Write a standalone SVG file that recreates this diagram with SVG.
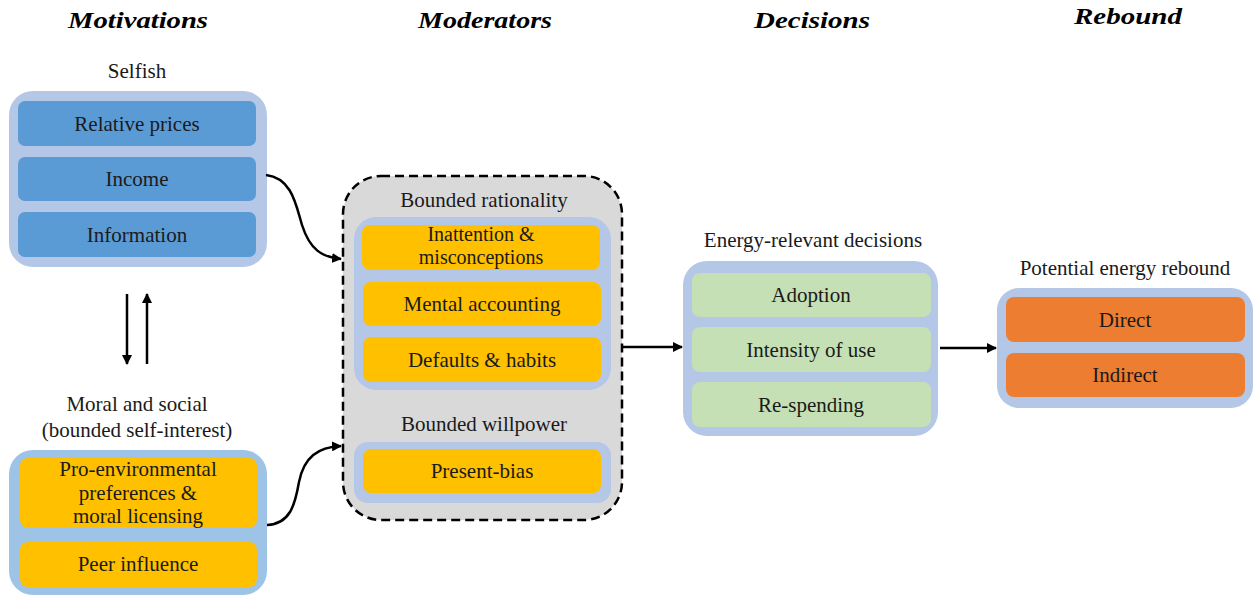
<svg xmlns="http://www.w3.org/2000/svg" width="1253" height="598" viewBox="0 0 1253 598">
  <style>
    .hdr { font-family: 'Liberation Serif', 'DejaVu Serif', serif; font-weight: bold; font-style: italic; font-size: 24px; fill: #000; text-anchor: middle; }
    .lbl { font-family: 'Liberation Serif', 'DejaVu Serif', serif; font-size: 21px; fill: #1a1a1a; text-anchor: middle; }
    .tight { font-size: 20px; }
    .outer { fill: #B4C7E7; }
    .outer2 { fill: #9DC3E6; }
    .blue { fill: #5B9BD5; }
    .gold { fill: #FFC000; }
    .green { fill: #C5E0B4; }
    .orange { fill: #ED7D31; }
    .conn { fill: none; stroke: #000; stroke-width: 2.5; }
  </style>
  <defs>
    <marker id="head" viewBox="0 0 10 10" refX="9" refY="5" markerWidth="4" markerHeight="4" orient="auto" markerUnits="strokeWidth">
      <path d="M0,0 L10,5 L0,10 z" fill="#000"/>
    </marker>
  </defs>

  <rect width="1253" height="598" fill="#fff"/>

  <!-- column headings -->
  <g id="headings">
    <text class="hdr" x="138" y="28" textLength="140" lengthAdjust="spacingAndGlyphs">Motivations</text>
    <text class="hdr" x="485" y="28" textLength="134" lengthAdjust="spacingAndGlyphs">Moderators</text>
    <text class="hdr" x="812" y="28" textLength="116" lengthAdjust="spacingAndGlyphs">Decisions</text>
    <text class="hdr" x="1128" y="24" textLength="108" lengthAdjust="spacingAndGlyphs">Rebound</text>
  </g>

  <!-- selfish motivations -->
  <g id="selfish">
    <text class="lbl" x="137" y="78">Selfish</text>
    <rect class="outer" x="9" y="91" width="258" height="176" rx="24"/>
    <rect class="blue" x="18" y="101" width="238" height="45" rx="7"/>
    <text class="lbl" x="137" y="131">Relative prices</text>
    <rect class="blue" x="18" y="157" width="238" height="44" rx="7"/>
    <text class="lbl" x="137" y="186">Income</text>
    <rect class="blue" x="18" y="212" width="238" height="45" rx="7"/>
    <text class="lbl" x="137" y="242">Information</text>
  </g>

  <!-- moral and social motivations -->
  <g id="moral-social">
    <text class="lbl" x="137" y="411">Moral and social</text>
    <text class="lbl" x="137" y="437">(bounded self-interest)</text>
    <rect class="outer2" x="9" y="450" width="258" height="145" rx="24"/>
    <rect class="gold" x="20" y="458" width="237" height="70" rx="8"/>
    <text class="lbl" x="138" y="476">Pro-environmental</text>
    <text class="lbl" x="138" y="500">preferences &amp;</text>
    <text class="lbl" x="138" y="523">moral licensing</text>
    <rect class="gold" x="20" y="542" width="237" height="45" rx="8"/>
    <text class="lbl" x="138" y="571">Peer influence</text>
  </g>

  <!-- moderators -->
  <g id="moderators">
    <rect x="343" y="176" width="279" height="344" rx="38" fill="#D9D9D9" stroke="#000" stroke-width="2.5" stroke-dasharray="9 5"/>
    <text class="lbl" x="484" y="207">Bounded rationality</text>
    <rect class="outer" x="354" y="217" width="257" height="173" rx="22"/>
    <rect class="gold" x="362" y="225" width="238" height="45" rx="8"/>
    <text class="lbl tight" x="481" y="241">Inattention &amp;</text>
    <text class="lbl tight" x="481" y="264">misconceptions</text>
    <rect class="gold" x="363" y="282" width="238" height="44" rx="8"/>
    <text class="lbl" x="482" y="311">Mental accounting</text>
    <rect class="gold" x="363" y="337" width="238" height="45" rx="8"/>
    <text class="lbl" x="482" y="367">Defaults &amp; habits</text>
    <text class="lbl" x="484" y="431">Bounded willpower</text>
    <rect class="outer" x="354" y="442" width="257" height="61" rx="14"/>
    <rect class="gold" x="363" y="449" width="238" height="44" rx="8"/>
    <text class="lbl" x="482" y="478">Present-bias</text>
  </g>

  <!-- decisions -->
  <g id="decisions">
    <text class="lbl" x="813" y="247">Energy-relevant decisions</text>
    <rect class="outer" x="683" y="261" width="255" height="175" rx="24"/>
    <rect class="green" x="692" y="273" width="239" height="44" rx="8"/>
    <text class="lbl" x="811" y="302">Adoption</text>
    <rect class="green" x="692" y="327" width="239" height="45" rx="8"/>
    <text class="lbl" x="811" y="357">Intensity of use</text>
    <rect class="green" x="692" y="382" width="239" height="45" rx="8"/>
    <text class="lbl" x="811" y="412">Re-spending</text>
  </g>

  <!-- rebound -->
  <g id="rebound">
    <text class="lbl" x="1125" y="275">Potential energy rebound</text>
    <rect class="outer" x="997" y="288" width="256" height="120" rx="22"/>
    <rect class="orange" x="1006" y="297" width="239" height="45" rx="8"/>
    <text class="lbl" x="1125" y="327">Direct</text>
    <rect class="orange" x="1006" y="353" width="239" height="44" rx="8"/>
    <text class="lbl" x="1125" y="382">Indirect</text>
  </g>

  <!-- connectors -->
  <g id="connectors">
    <line class="conn" x1="127" y1="294" x2="127" y2="364" stroke-width="2" marker-end="url(#head)"/>
    <line class="conn" x1="147" y1="364" x2="147" y2="294" stroke-width="2" marker-end="url(#head)"/>
    <path class="conn" d="M266,175 C292,178 296,205 302,225 C310,250 322,257 341,259" marker-end="url(#head)"/>
    <path class="conn" d="M267,525 C290,524 295,505 299,482 C304,457 318,447 341,446" marker-end="url(#head)"/>
    <line class="conn" x1="622" y1="347" x2="682" y2="347" marker-end="url(#head)"/>
    <line class="conn" x1="940" y1="348" x2="996" y2="348" marker-end="url(#head)"/>
  </g>
</svg>
